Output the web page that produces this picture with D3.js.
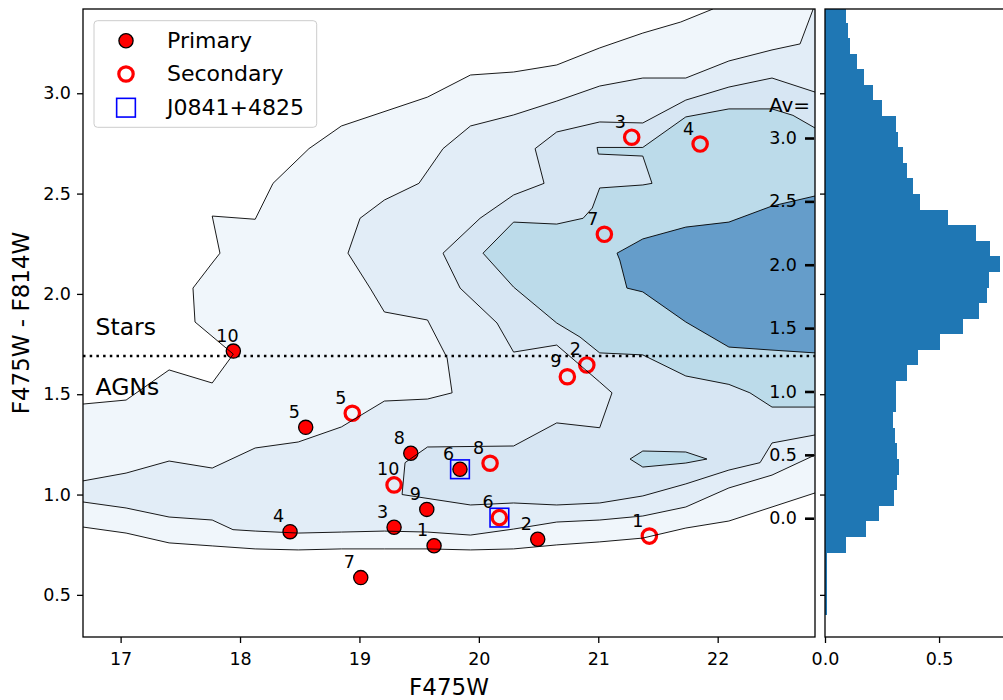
<!DOCTYPE html>
<html><head><meta charset="utf-8">
<script src="https://cdn.jsdelivr.net/npm/d3@7"></script>
<style>body{margin:0;background:#fff}svg{display:block;font-family:"DejaVu Sans",sans-serif}</style>
</head><body><svg id="c" width="1003" height="700"></svg>
<script>
// ---------- data ----------
const xDomain=[16.685,22.815];
const yDomain=[0.29,3.42];
const xTicks=[17,18,19,20,21,22];
const yTicks=[0.5,1.0,1.5,2.0,2.5,3.0];
const avTicks=[0,0.5,1.0,1.5,2.0,2.5,3.0];
const avColorAtZero=0.882, avColorAtThree=2.777;   // colour value where Av=0 and Av=3
const histTicks=[0,0.5];
const histXMax=0.811;
const starLine=1.69;

const primaryIds=["1","2","3","4","5","6","7","8","9","10"];
const primaryX=[19.625,20.493,19.29,18.419,18.55,19.842,19.011,19.43,19.564,17.944];
const primaryY=[0.745,0.777,0.837,0.815,1.335,1.126,0.586,1.206,0.926,1.715];
const secondaryIds=["1","2","3","4","5","6","7","8","9","10"];
const secondaryX=[21.428,20.904,21.28,21.853,18.94,20.172,21.051,20.094,20.741,19.29];
const secondaryY=[0.793,1.646,2.781,2.747,1.405,0.885,2.297,1.156,1.587,1.048];
const j0841X=[19.842,20.172];
const j0841Y=[1.126,0.885];

// histogram of colour (horizontal bars), bins from bottom
const histStart=0.400, histBinWidth=0.0777;
const histValues=[0.007,0.007,0.007,0.007,0.092,0.18,0.237,0.303,0.316,0.325,0.316,0.307,0.298,0.311,0.311,0.36,0.408,0.504,0.605,0.675,0.711,0.719,0.768,0.724,0.662,0.54,0.417,0.386,0.36,0.342,0.32,0.311,0.249,0.209,0.17,0.14,0.11,0.10,0.092];

// density contours (F475W, colour)
const level1Upper=[[16.685,1.451],[17.046,1.471],[17.406,1.621],[17.767,1.556],[17.944,1.70],[17.623,1.86],[17.606,2.029],[17.767,2.154],[17.832,2.203],[17.767,2.388],[18.127,2.372],[18.276,2.551],[18.577,2.724],[18.849,2.837],[19.57,2.981],[19.93,3.091],[20.291,3.106],[20.652,3.141],[21.012,3.226],[21.373,3.30],[21.69,3.355],[21.96,3.42]];
const level1Lower=[[16.685,0.838],[17.046,0.808],[17.406,0.759],[17.767,0.744],[18.127,0.729],[18.488,0.724],[18.849,0.729],[19.209,0.729],[19.57,0.729],[19.93,0.724],[20.291,0.729],[20.652,0.749],[21.012,0.764],[21.373,0.783],[21.733,0.833],[22.094,0.868],[22.455,0.938],[22.815,1.008]];
const level2Upper=[[16.685,1.068],[17.046,1.107],[17.406,1.167],[17.767,1.132],[18.127,1.232],[18.488,1.262],[18.849,1.337],[19.209,1.466],[19.57,1.476],[19.776,1.507],[19.734,1.681],[19.57,1.870],[19.209,1.910],[19.089,2.029],[18.904,2.203],[19.005,2.377],[19.209,2.468],[19.498,2.551],[19.70,2.724],[19.93,2.837],[20.291,2.892],[20.652,2.961],[21.012,3.036],[21.373,3.076],[21.733,3.076],[22.094,3.161],[22.455,3.216],[22.69,3.246],[22.80,3.42]];
const level2Lower=[[16.685,0.963],[17.046,0.933],[17.406,0.888],[17.767,0.873],[17.941,0.825],[18.127,0.818],[18.488,0.808],[18.849,0.813],[19.209,0.818],[19.57,0.813],[19.93,0.798],[20.291,0.828],[20.652,0.863],[21.012,0.873],[21.373,0.893],[21.733,0.938],[22.094,1.033],[22.455,1.097],[22.815,1.197]];
const level3=[[22.815,3.006],[22.455,3.076],[22.094,3.031],[21.733,2.966],[21.373,2.852],[21.012,2.857],[20.652,2.807],[20.471,2.724],[20.546,2.551],[20.291,2.493],[20.01,2.377],[19.70,2.203],[19.843,2.029],[20.152,1.855],[20.291,1.710],[20.652,1.745],[21.012,1.561],[21.115,1.507],[21.012,1.333],[20.652,1.357],[20.291,1.242],[19.57,1.237],[19.382,1.159],[19.357,1.0],[19.93,0.948],[20.291,0.958],[20.652,0.948],[21.012,0.958],[21.373,0.993],[21.733,1.053],[22.094,1.122],[22.355,1.159],[22.455,1.257],[22.815,1.297]];
const level4=[[22.815,2.827],[22.63,2.89],[22.455,2.922],[22.094,2.922],[21.733,2.882],[21.373,2.73],[20.99,2.73],[21.0,2.697],[21.373,2.687],[21.45,2.551],[21.373,2.543],[21.012,2.528],[20.95,2.428],[20.873,2.377],[20.652,2.348],[20.291,2.358],[20.035,2.203],[20.291,2.034],[20.652,1.855],[20.847,1.785],[21.012,1.706],[21.373,1.696],[21.733,1.591],[22.094,1.549],[22.27,1.507],[22.455,1.436],[22.815,1.436]];
const level5=[[22.815,1.706],[22.455,1.72],[22.094,1.735],[21.733,1.860],[21.373,2.010],[21.24,2.029],[21.18,2.169],[21.157,2.203],[21.373,2.274],[21.733,2.333],[22.094,2.358],[22.455,2.438],[22.815,2.488]];
const level4Island=[[21.266,1.177],[21.373,1.217],[21.733,1.212],[21.91,1.177],[21.733,1.157],[21.373,1.137]];
const levelColors=["#f0f6fb","#e2edf7","#d7e6f3","#bcdbea","#659dca"];

// ---------- drawing ----------
const svg=d3.select("#c");
const P={l:83,r:815,t:9,b:637};
const HB={l:825,r:1010};
const x=d3.scaleLinear().domain(xDomain).range([P.l,P.r]);
const y=d3.scaleLinear().domain(yDomain).range([P.b,P.t]);
const hx=d3.scaleLinear().domain([0,histXMax]).range([HB.l,HB.r]);
const av=d3.scaleLinear().domain([0,3]).range([y(avColorAtZero),y(avColorAtThree)]);

const defs=svg.append("defs");
defs.append("clipPath").attr("id","cp").append("rect").attr("x",P.l).attr("y",P.t).attr("width",P.r-P.l).attr("height",P.b-P.t);
defs.append("clipPath").attr("id","hcp").append("rect").attr("x",HB.l).attr("y",P.t).attr("width",HB.r-HB.l).attr("height",P.b-P.t);

const line=d3.line().x(d=>x(d[0])).y(d=>y(d[1]));
const corner=[xDomain[1],yDomain[1]];
const g=svg.append("g").attr("clip-path","url(#cp)");
const fills=[
  level1Upper.concat([corner],level1Lower.slice().reverse()),
  level2Upper.concat([corner],level2Lower.slice().reverse()),
  level3, level4, level5, level4Island];
const fillCols=[levelColors[0],levelColors[1],levelColors[2],levelColors[3],levelColors[4],levelColors[3]];
fills.forEach((f,i)=>g.append("path").attr("d",line(f)+"Z").attr("fill",fillCols[i]).attr("stroke","none"));

// dotted Stars/AGN divider
g.append("line").attr("x1",x(xDomain[0])).attr("x2",x(xDomain[1])).attr("y1",y(starLine)).attr("y2",y(starLine))
 .attr("stroke","#000").attr("stroke-width",2.5).attr("stroke-dasharray","2.5,4.2");

// markers
const prim=primaryX.map((v,i)=>({x:v,y:primaryY[i],id:primaryIds[i]}));
const sec=secondaryX.map((v,i)=>({x:v,y:secondaryY[i],id:secondaryIds[i]}));
g.selectAll("circle.p").data(prim).join("circle").attr("cx",d=>x(d.x)).attr("cy",d=>y(d.y)).attr("r",7.1)
 .attr("fill","#ff0000").attr("stroke","#000").attr("stroke-width",1.3);
g.selectAll("circle.s").data(sec).join("circle").attr("cx",d=>x(d.x)).attr("cy",d=>y(d.y)).attr("r",7.2)
 .attr("fill","none").attr("stroke","#ff0000").attr("stroke-width",3.2);

// contour lines
[level1Upper,level1Lower,level2Upper,level2Lower,level3,level4,level5].forEach(l=>
  g.append("path").attr("d",line(l)).attr("fill","none").attr("stroke","#000").attr("stroke-width",0.9));
g.append("path").attr("d",line(level4Island)+"Z").attr("fill","none").attr("stroke","#000").attr("stroke-width",0.9);

// J0841 squares
const sq=18.7;
g.selectAll("rect.j").data(j0841X.map((v,i)=>[v,j0841Y[i]])).join("rect")
 .attr("x",d=>x(d[0])-sq/2).attr("y",d=>y(d[1])-sq/2).attr("width",sq).attr("height",sq)
 .attr("fill","none").attr("stroke","#0000ff").attr("stroke-width",1.6);

// number labels
const lab=svg.append("g").attr("font-size","17.5px").attr("fill","#000");
prim.concat(sec).forEach(d=>lab.append("text").attr("x",x(d.x)-17).attr("y",y(d.y)-9.5).text(d.id));

// Stars / AGNs
svg.append("text").attr("x",95.5).attr("y",335).attr("font-size","23.5px").text("Stars");
svg.append("text").attr("x",95.5).attr("y",395).attr("font-size","23.5px").text("AGNs");

// Av axis
const avAxis=svg.append("g").attr("transform",`translate(814,0)`)
  .call(d3.axisLeft(av).tickValues(avTicks).tickSize(9).tickPadding(8).tickFormat(d3.format(".1f")));
avAxis.select(".domain").remove();
avAxis.selectAll("line").attr("stroke-width",2.6);
avAxis.selectAll("text").attr("font-size","17.5px").attr("font-family","DejaVu Sans");
svg.append("text").attr("x",769).attr("y",111.5).attr("font-size","20px").text("Av=");

// main axes
function styleAxis(a){a.select(".domain").remove();a.selectAll("line").attr("stroke-width",1.3);
  a.selectAll("text").attr("font-size","17.5px").attr("font-family","DejaVu Sans").attr("fill","#000");}
styleAxis(svg.append("g").attr("transform",`translate(0,${P.b})`)
 .call(d3.axisBottom(x).tickValues(xTicks).tickSize(6).tickPadding(10).tickFormat(d3.format("d"))));
styleAxis(svg.append("g").attr("transform",`translate(${P.l},0)`)
 .call(d3.axisLeft(y).tickValues(yTicks).tickSize(6).tickPadding(6).tickFormat(d3.format(".1f"))));
svg.append("rect").attr("x",P.l).attr("y",P.t).attr("width",P.r-P.l).attr("height",P.b-P.t)
 .attr("fill","none").attr("stroke","#000").attr("stroke-width",1.3);

// histogram panel
const hg=svg.append("g").attr("clip-path","url(#hcp)");
hg.selectAll("rect").data(histValues).join("rect")
 .attr("x",hx(0)).attr("width",d=>hx(d)-hx(0))
 .attr("y",(d,i)=>y(histStart+(i+1)*histBinWidth)).attr("height",(d,i)=>y(histStart+i*histBinWidth)-y(histStart+(i+1)*histBinWidth))
 .attr("fill","#1f77b4").attr("shape-rendering","crispEdges");
styleAxis(svg.append("g").attr("transform",`translate(${HB.l},0)`)
 .call(d3.axisLeft(y).tickValues(yTicks).tickSize(5).tickFormat("")));
styleAxis(svg.append("g").attr("transform",`translate(0,${P.b})`)
 .call(d3.axisBottom(hx).tickValues(histTicks).tickSize(6).tickPadding(10).tickFormat(d3.format(".1f"))));
svg.append("rect").attr("x",HB.l).attr("y",P.t).attr("width",HB.r-HB.l+20).attr("height",P.b-P.t)
 .attr("fill","none").attr("stroke","#000").attr("stroke-width",1.3);

// axis labels
svg.append("text").attr("x",(P.l+P.r)/2).attr("y",695).attr("text-anchor","middle").attr("font-size","23px").text("F475W");
svg.append("text").attr("transform",`translate(29,${(P.t+P.b)/2}) rotate(-90)`).attr("text-anchor","middle").attr("font-size","23px").text("F475W - F814W");

// legend
const lg=svg.append("g");
lg.append("rect").attr("x",94).attr("y",20.7).attr("width",222.7).attr("height",106.6).attr("rx",3.5)
 .attr("fill","#fff").attr("fill-opacity",0.8).attr("stroke","#cccccc").attr("stroke-width",1);
const ly=[40.7,74,107.7];
lg.append("circle").attr("cx",126).attr("cy",ly[0]).attr("r",7.1).attr("fill","#ff0000").attr("stroke","#000").attr("stroke-width",1.3);
lg.append("circle").attr("cx",126).attr("cy",ly[1]).attr("r",7.2).attr("fill","none").attr("stroke","#ff0000").attr("stroke-width",3.2);
lg.append("rect").attr("x",126-sq/2).attr("y",ly[2]-sq/2).attr("width",sq).attr("height",sq).attr("fill","none").attr("stroke","#0000ff").attr("stroke-width",1.6);
["Primary","Secondary","J0841+4825"].forEach((t,i)=>lg.append("text").attr("x",167).attr("y",ly[i]+7).attr("font-size","22px").text(t));
</script></body></html>
